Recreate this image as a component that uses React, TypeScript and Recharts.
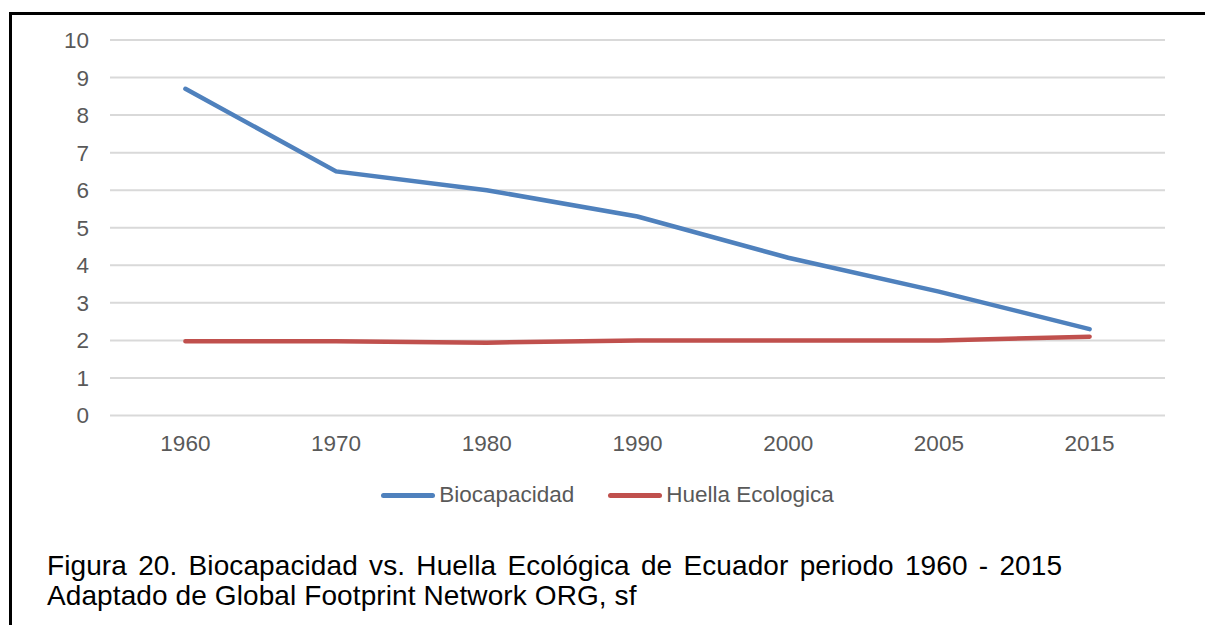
import { LineChart, Line, XAxis, YAxis, CartesianGrid, Legend } from 'recharts';

const years = ['1960', '1970', '1980', '1990', '2000', '2005', '2015'];
const biocapacidad = [8.7, 6.5, 6.0, 5.3, 4.2, 3.3, 2.3];
const huella = [1.98, 1.98, 1.94, 2.0, 2.0, 2.0, 2.1];
const yTicks = [0, 1, 2, 3, 4, 5, 6, 7, 8, 9, 10];

const series = [
    { key: 'Biocapacidad', color: '#4F81BD' },
    { key: 'Huella Ecologica', color: '#C0504D' },
];

const data = years.map((year, i) => ({
    year,
    Biocapacidad: biocapacidad[i],
    'Huella Ecologica': huella[i],
}));

const FONT = '"Liberation Sans", Arial, sans-serif';

const LegendContent = () => (
    <div style={{ display: 'flex', justifyContent: 'center', alignItems: 'center', height: 30, fontFamily: FONT, fontSize: 22.5, color: '#595959' }}>
        {series.map((s, i) => (
            <div key={s.key} style={{ display: 'flex', alignItems: 'center', marginLeft: i > 0 ? 34 : 0 }}>
                <span style={{ display: 'inline-block', width: 54, height: 5, borderRadius: 3, background: s.color, marginRight: 4 }} />
                <span>{s.key}</span>
            </div>
        ))}
    </div>
);

const App = () => (
    <div style={{ position: 'relative', width: 1205, height: 625, overflow: 'hidden', background: '#fff', fontFamily: FONT }}>
        <style>{'body { margin: 0; }'}</style>
        <div style={{ position: 'absolute', left: 9, top: 12, width: 1400, height: 800, borderLeft: '3px solid #000', borderTop: '3px solid #000' }} />
        <div style={{ position: 'absolute', left: 0, top: 0 }}>
            <LineChart width={1205} height={510} data={data} margin={{ top: 40, right: 40, left: 50, bottom: 0 }}>
                <CartesianGrid vertical={false} stroke="#D9D9D9" strokeWidth={2} />
                <XAxis
                    dataKey="year"
                    axisLine={false}
                    tickLine={false}
                    height={64.5}
                    tickMargin={14}
                    padding={{ left: 75.4, right: 75.4 }}
                    tick={{ fill: '#595959', fontSize: 22.5, fontFamily: FONT }}
                />
                <YAxis
                    domain={[0, 10]}
                    ticks={yTicks}
                    interval={0}
                    axisLine={false}
                    tickLine={false}
                    width={60}
                    tickMargin={15}
                    tick={{ fill: '#595959', fontSize: 22.5, fontFamily: FONT }}
                />
                <Legend verticalAlign="bottom" height={30} content={<LegendContent />} />
                {series.map((s) => (
                    <Line
                        key={s.key}
                        type="linear"
                        dataKey={s.key}
                        stroke={s.color}
                        strokeWidth={4.5}
                        strokeLinecap="round"
                        dot={false}
                        activeDot={false}
                        isAnimationActive={false}
                    />
                ))}
            </LineChart>
        </div>
        <div style={{ position: 'absolute', left: 47, top: 551, fontSize: 28, lineHeight: '30px', color: '#000', letterSpacing: 0.1 }}>
            <div style={{ wordSpacing: 3.3 }}>Figura 20. Biocapacidad vs. Huella Ecológica de Ecuador periodo 1960 - 2015</div>
            <div>Adaptado de Global Footprint Network ORG, sf</div>
        </div>
    </div>
);

export default App;
